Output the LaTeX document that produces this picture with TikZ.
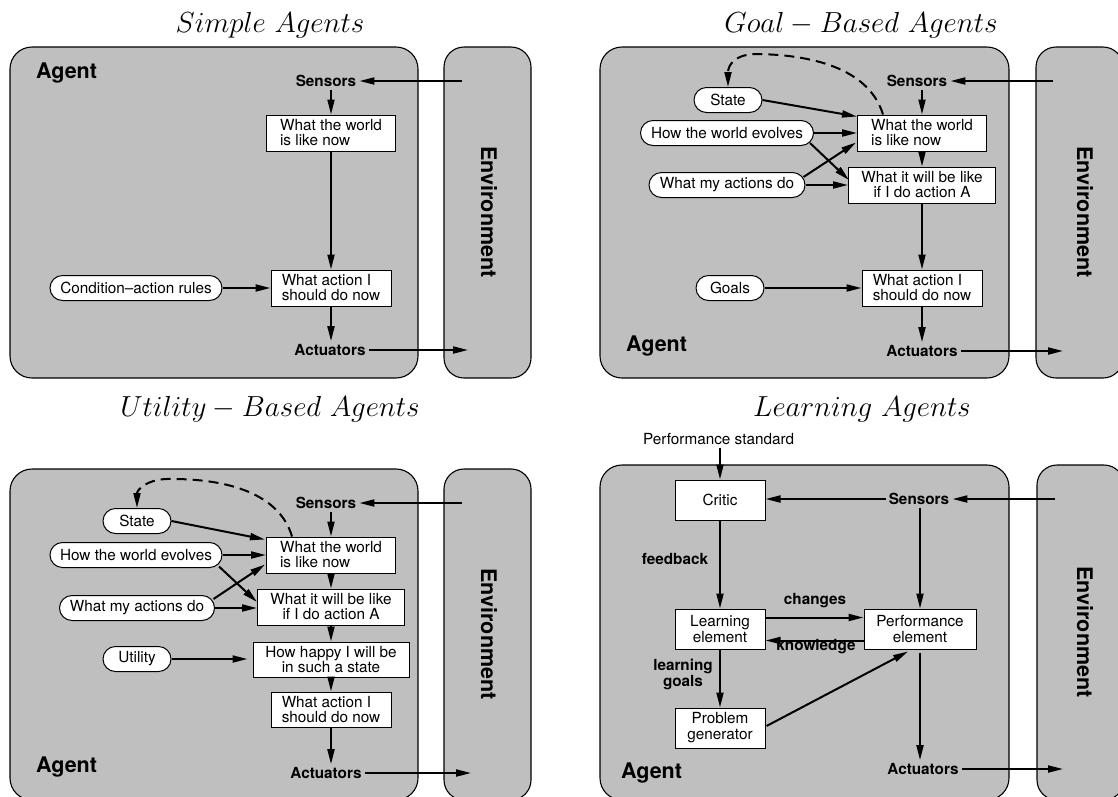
\RequirePackage{fix-cm}
\documentclass[tikz,border=0pt]{standalone}
\usepackage{fontspec}
\usetikzlibrary{arrows.meta,calc}
\newfontfamily\hv{TeX Gyre Heros}
\definecolor{agentgray}{RGB}{191,191,191}
\newcommand\txtfont{\hv\fontsize{15.3}{15}\selectfont}
\newcommand\lblfont{\hv\bfseries\fontsize{15.3}{16}\selectfont}
\newcommand\bigfont{\hv\bfseries\fontsize{21.5}{22}\selectfont}
\newcommand\titlefont{\fontsize{29}{30}\selectfont}
\begin{document}
\begin{tikzpicture}[x=1pt,y=-1pt,
  agentbox/.style={draw=black, fill=agentgray, line width=1.1pt, rounded corners=22pt},
  envbox/.style={draw=black, fill=agentgray, line width=1.1pt, rounded corners=20pt},
  infobox/.style={draw, fill=white, line width=1pt, font=\txtfont, inner sep=0pt, align=left},
  cbox/.style={infobox, align=center},
  oval/.style={draw, fill=white, line width=1pt, rounded corners=12.5pt, minimum height=25pt, font=\txtfont, inner sep=0pt},
  arr/.style={-{Triangle[length=15pt,width=7pt]}, line width=2pt},
  dasharr/.style={arr, dash pattern=on 10pt off 6pt},
  lbl/.style={font=\lblfont, inner sep=3pt},
  plaintext/.style={font=\txtfont, inner sep=3pt},
  biglbl/.style={font=\bigfont, inner sep=0pt},
  ttl/.style={font=\titlefont, inner sep=0pt, anchor=base}]
\clip (0,0) rectangle (1118,796);

% ---------- agent and environment frames ----------
\path[agentbox] (10,47) rectangle (418,378);
\path[envbox] (444,47) rectangle (531,378);
\path[agentbox] (600,47) rectangle (1009,378);
\path[envbox] (1036,47) rectangle (1123,378);
\path[agentbox] (10,469) rectangle (418,800);
\path[envbox] (444,469) rectangle (531,800);
\path[agentbox] (600,465) rectangle (1009,800);
\path[envbox] (1037,465) rectangle (1124,800);

% ---------- simple reflex agent ----------
\node[ttl] (t1) at (270,32) {$Simple\ Agents$};
\node[biglbl, anchor=base west] (ag1) at (36,78) {Agent};
\node[lbl] (s1) at (326,81) {Sensors};
\node[infobox, minimum width=129, minimum height=36] (w1) at (331,133) {What the world\\is like now};
\node[infobox, minimum width=120, minimum height=36] (d1) at (331,288) {What action I\\should do now};
\node[oval, minimum width=172] (c1) at (136,288) {Condition–action rules};
\node[lbl] (a1) at (330,350) {Actuators};
\node[biglbl, rotate=-90] (en1) at (489,212) {Environment};
\coordinate (e1s) at (462,81);
\coordinate (e1a) at (468,350);
\draw[arr] (e1s) -- (s1.east);
\draw[arr] (w1.north |- s1.south) -- (w1.north);
\draw[arr] (w1.south) -- (w1.south |- d1.north);
\draw[arr] (c1.east) -- (d1.west);
\draw[arr] (d1.south) -- (d1.south |- a1.north);
\draw[arr] (a1.east) -- (e1a);

% ---------- goal-based agent ----------
\node[ttl] (t2) at (861,32) {$Goal - Based\ Agents$};
\node[biglbl, anchor=base west] (ag2) at (626,351) {Agent};
\node[lbl] (s2) at (917,81) {Sensors};
\node[infobox, minimum width=129, minimum height=36] (w2) at (922,133) {What the world\\is like now};
\node[cbox, minimum width=147, minimum height=36] (f2) at (922,185) {What it will be like\\if I do action A};
\node[infobox, minimum width=120, minimum height=36] (d2) at (922,288) {What action I\\should do now};
\node[oval, minimum width=68] (st2) at (728,100) {State};
\node[oval, minimum width=173] (ev2) at (727,133) {How the world evolves};
\node[oval, minimum width=156] (ac2) at (727,185) {What my actions do};
\node[oval, minimum width=68] (g2) at (730,288) {Goals};
\node[lbl] (a2) at (922,351) {Actuators};
\node[biglbl, rotate=-90] (en2) at (1085,212) {Environment};
\coordinate (e2s) at (1053,81);
\coordinate (e2a) at (1063,351);
\draw[arr] (e2s) -- (s2.east);
\draw[arr] (w2.north |- s2.south) -- (w2.north);
\draw[arr] (w2.south) -- (f2.north);
\draw[arr] (f2.south) -- (f2.south |- d2.north);
\draw[arr] (st2.east) -- ($(w2.north west)+(0,2)$);
\draw[arr] (ev2.east) -- (ev2.east -| w2.west);
\draw[arr] ($(ev2.south east)+(-4,-3)$) -- ($(f2.west)+(1,-5)$);
\draw[arr] ($(ac2.north east)+(-2,5)$) -- ($(w2.south west)+(-1,-9)$);
\draw[arr] (ac2.east) -- (f2.west);
\draw[arr] (g2.east) -- (d2.west);
\draw[arr] (d2.south) -- (d2.south |- a2.north);
\draw[arr] (a2.east) -- (e2a);
\draw[dasharr] ($(w2.north west)+(26,0)$) .. controls (870,72) and (820,55) .. (757,54)
  .. controls (735,54) and (728,65) .. (st2.north);

% ---------- utility-based agent ----------
\node[ttl] (t3) at (270,416) {$Utility - Based\ Agents$};
\node[biglbl, anchor=base west] (ag3) at (36,772) {Agent};
\node[lbl] (s3) at (326,503) {Sensors};
\node[oval, minimum width=68] (st3) at (137,521) {State};
\node[oval, minimum width=172] (ev3) at (136,555) {How the world evolves};
\node[oval, minimum width=155] (ac3) at (137,608) {What my actions do};
\node[oval, minimum width=68] (ut3) at (137,659) {Utility};
\node[infobox, minimum width=129, minimum height=36] (w3) at (331,555) {What the world\\is like now};
\node[cbox, minimum width=147, minimum height=36] (f3) at (331,607) {What it will be like\\if I do action A};
\node[cbox, minimum width=156, minimum height=35] (h3) at (331,659.5) {How happy I will be\\in such a state};
\node[infobox, minimum width=120, minimum height=35] (d3) at (331,709.5) {What action I\\should do now};
\node[lbl] (a3) at (326,773) {Actuators};
\node[biglbl, rotate=-90] (en3) at (489,634) {Environment};
\coordinate (e3s) at (462,503);
\coordinate (e3a) at (471,773);
\draw[arr] (e3s) -- (s3.east);
\draw[arr] (w3.north |- s3.south) -- (w3.north);
\draw[arr] (w3.south) -- (f3.north);
\draw[arr] (f3.south) -- (f3.south |- h3.north);
\draw[arr] (h3.south) -- (h3.south |- d3.north);
\draw[arr] (d3.south) -- (d3.south |- a3.north);
\draw[arr] (st3.east) -- ($(w3.north west)+(-1,3)$);
\draw[arr] (ev3.east) -- (ev3.east -| w3.west);
\draw[arr] ($(ev3.south east)+(-3.5,-1.5)$) -- ($(f3.west)+(0,-5)$);
\draw[arr] ($(ac3.north east)+(-1.5,4)$) -- ($(w3.south west)+(-1,-9)$);
\draw[arr] (ac3.east) -- (ac3.east -| f3.west);
\draw[arr, shorten >=5pt] (ut3.east) -- (ut3.east -| h3.west);
\draw[arr] (a3.east) -- (e3a);
\draw[dasharr] ($(w3.north west)+(26,0)$) .. controls (280,495) and (230,478) .. (166,479)
  .. controls (146,480) and (137,490) .. (st3.north);

% ---------- learning agent ----------
\node[ttl] (t4) at (862,416) {$Learning\ Agents$};
\node[plaintext] (ps4) at (718.6,438.7) {Performance standard};
\node[biglbl, anchor=base west] (ag4) at (621,778) {Agent};
\node[infobox, align=center, minimum width=90, minimum height=40] (cr4) at (720,500) {Critic};
\node[lbl] (s4) at (919,499) {Sensors};
\node[cbox, minimum width=90, minimum height=40, font=\hv\fontsize{15.3}{16}\selectfont] (le4) at (720,629) {Learning\\element};
\node[cbox, minimum width=112, minimum height=40, font=\hv\fontsize{15.3}{16}\selectfont] (pe4) at (920,629) {Performance\\element};
\node[cbox, minimum width=90, minimum height=40, font=\hv\fontsize{15.3}{16}\selectfont] (pg4) at (720,728) {Problem\\generator};
\node[lbl] (a4) at (923,769) {Actuators};
\node[lbl] (fb4) at (675,559) {feedback};
\node[lbl] (ch4) at (815,601) {changes};
\node[lbl] (kn4) at (816,647) {knowledge};
\node[lbl, align=center] (lg4) at (683,674) {learning\\goals};
\node[biglbl, rotate=-90] (en4) at (1085,632) {Environment};
\coordinate (e4s) at (1055,499);
\coordinate (e4a) at (1063,769);
\draw[arr] (e4s) -- (s4.east);
\draw[arr] (s4.west) -- (s4.west -| cr4.east);
\draw[arr] (ps4.south -| cr4.north) -- (cr4.north);
\draw[arr] (pe4.north |- s4.south) -- (pe4.north);
\draw[arr] (cr4.south) -- (le4.north);
\draw[arr] ($(le4.north east)+(0,9)$) -- ($(pe4.north west)+(0,9)$);
\draw[arr] ($(pe4.south west)+(0,-9)$) -- ($(le4.south east)+(0,-9)$);
\draw[arr] (le4.south) -- (pg4.north);
\draw[arr] ($(pg4.east)+(1,-2)$) -- ($(pe4.south)+(-12,2)$);
\draw[arr] ($(pe4.south)+(0,3)$) -- (pe4.south |- a4.north);
\draw[arr] (a4.east) -- (e4a);
\end{tikzpicture}
\end{document}
